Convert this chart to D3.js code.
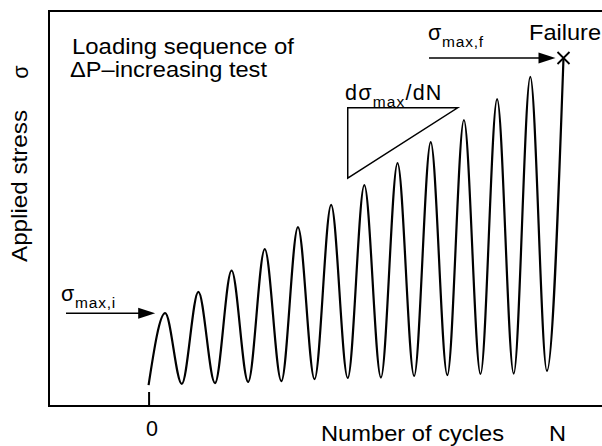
<!DOCTYPE html>
<html>
<head>
<meta charset="utf-8">
<script src="https://cdn.jsdelivr.net/npm/d3@7"></script>
<style>
  html, body { margin: 0; padding: 0; background: #fff; }
  svg { display: block; }
  text { font-family: "Liberation Sans", Arial, Helvetica, sans-serif; fill: #000; }
</style>
</head>
<body>
<svg id="chart" width="602" height="446"></svg>
<script>
// ---- data (cycles, applied stress in arbitrary units) ----
const cycles = [0, 0.5, 1, 1.5, 2, 2.5, 3, 3.5, 4, 4.5, 5, 5.5, 6, 6.5, 7, 7.5, 8, 8.5, 9, 9.5, 10, 10.5, 11, 11.5, 12, 12.5];
const stress = [5.3, 23.5, 5.6, 28.9, 5.8, 34.3, 6.1, 39.7, 6.3, 45.3, 6.8, 50.9, 7.1, 55.9, 7.2, 61.5, 7.6, 66.8, 7.8, 72.4, 8.1, 77.7, 8.2, 83.3, 8.9, 88.1];
const xTicks = [0];
const xTickLabels = ["0"];
const slopeTriangle = [[6.0, 75.5], [9.31, 75.5], [6.0, 57.7]];

const svg = d3.select("#chart");
const mLeft = 49, mTop = 11, mBottom = 406, mRight = 602;

const x = d3.scaleLinear().domain([-3, 13.66]).range([mLeft, mRight]);
const y = d3.scaleLinear().domain([0, 100]).range([mBottom, mTop]);

const FS = 21.5;

// frame
svg.append("path")
  .attr("d", `M${mRight + 5},${mTop}H${mLeft}V${mBottom}H${mRight + 5}`)
  .attr("fill", "none").attr("stroke", "#000").attr("stroke-width", 2);

// x tick at 0
const xAxis = d3.axisBottom(x).tickValues(xTicks).tickFormat((d, i) => xTickLabels[i]).tickSize(-14).tickPadding(0);
const gx = svg.append("g").attr("transform", `translate(0,${mBottom})`).call(xAxis);
gx.select(".domain").remove();
gx.selectAll(".tick line").attr("stroke", "#000").attr("stroke-width", 2);
gx.selectAll(".tick text").attr("font-size", FS).attr("dy", null).attr("y", 30).attr("dx", 3)
  .attr("fill", "#000")
  .style("font-family", '"Liberation Sans", Arial, sans-serif');

// curve
const pts = cycles.map((c, i) => [c, stress[i]]);
svg.append("path")
  .datum(pts)
  .attr("d", d3.line().x(d => x(d[0])).y(d => y(d[1])).curve(d3.curveMonotoneX))
  .attr("fill", "none").attr("stroke", "#000").attr("stroke-width", 2.2);

// failure X
const fx = x(cycles[cycles.length - 1]), fy = y(stress[stress.length - 1]);
svg.append("path")
  .attr("d", `M${fx - 6},${fy - 6}L${fx + 6},${fy + 6}M${fx + 6},${fy - 6}L${fx - 6},${fy + 6}`)
  .attr("stroke", "#000").attr("stroke-width", 1.8);

// arrows
function arrow(x0, x1, yy) {
  svg.append("line").attr("x1", x0).attr("x2", x1 - 14).attr("y1", yy).attr("y2", yy)
    .attr("stroke", "#000").attr("stroke-width", 1.5);
  svg.append("path").attr("d", `M${x1},${yy}L${x1 - 17},${yy - 5.5}L${x1 - 17},${yy + 5.5}Z`).attr("fill", "#000");
}
arrow(66, x(cycles[1]) - 10, y(stress[1]));
arrow(429, fx - 8, fy);

// slope triangle
svg.append("path")
  .attr("d", d3.line().x(d => x(d[0])).y(d => y(d[1]))(slopeTriangle) + "Z")
  .attr("fill", "none").attr("stroke", "#000").attr("stroke-width", 1.5);

// texts
function txt(xx, yy, parts, len, ls) {
  const t = svg.append("text").attr("x", xx).attr("y", yy).attr("font-size", FS);
  if (len) t.attr("textLength", len).attr("lengthAdjust", "spacingAndGlyphs");
  if (ls) t.attr("letter-spacing", ls);
  parts.forEach(p => {
    const s = t.append("tspan").text(p.t);
    if (p.sub) s.attr("font-size", 15.5).attr("dy", 7);
    if (p.up) s.attr("dy", -7);
  });
  return t;
}
txt(72, 54, [{t: "Loading sequence of"}], 222);
txt(70, 77, [{t: "\u0394P\u2013increasing test"}], 197);
txt(61, 301, [{t: "\u03c3"}, {t: "max,i", sub: true}], null, 0.8);
txt(428, 40, [{t: "\u03c3"}, {t: "max,f", sub: true}], null, 0.8);
txt(529, 40, [{t: "Failure"}], 72);
txt(345, 100, [{t: "d\u03c3"}, {t: "max", sub: true}, {t: "/dN", up: true}], null, 1.2);
txt(321, 440.5, [{t: "Number of cycles"}], 183);
txt(549, 440.5, [{t: "N"}], 17);

svg.append("text").attr("transform", "translate(27,186) rotate(-90)").attr("text-anchor", "middle")
  .attr("font-size", FS).attr("textLength", 152).attr("lengthAdjust", "spacingAndGlyphs").text("Applied stress");
svg.append("text").attr("transform", "translate(28,72) rotate(-90)").attr("text-anchor", "middle")
  .attr("font-size", FS).text("\u03c3");
</script>
</body>
</html>
